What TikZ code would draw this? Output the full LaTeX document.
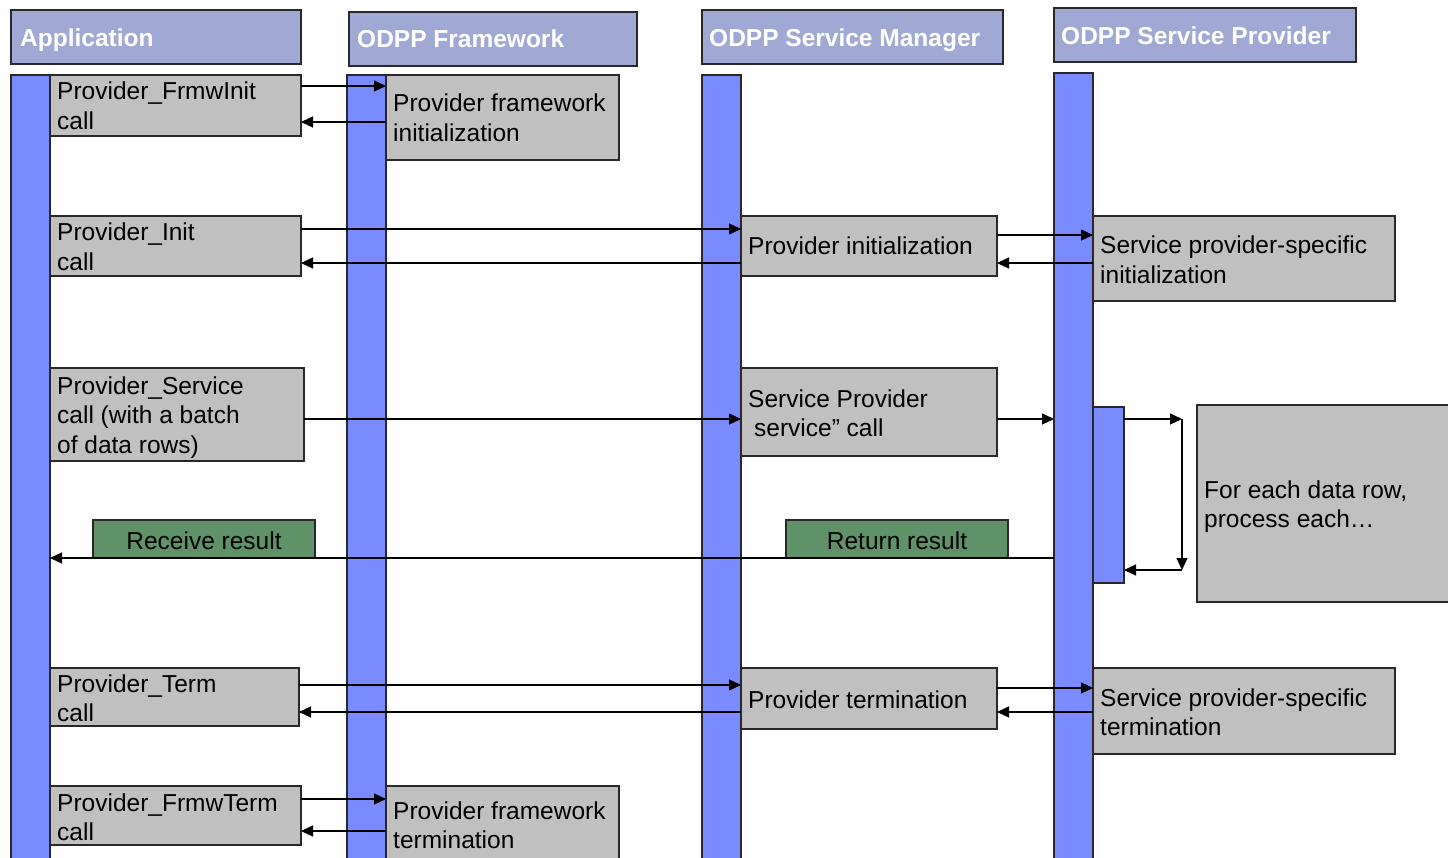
\documentclass[tikz,border=0pt]{standalone}
\usepackage{fontspec}
\setmainfont{Liberation Sans}
\usetikzlibrary{arrows.meta}
\definecolor{hdr}{RGB}{160,168,212}
\definecolor{life}{RGB}{122,138,255}
\definecolor{gbx}{RGB}{192,192,192}
\definecolor{grn}{RGB}{96,146,104}
\definecolor{edge}{RGB}{40,40,40}
\newcommand{\mkbox}[6]{\node[#1,anchor=north west,minimum width={(#5-(#3))*1pt},minimum height={(#6-(#4))*1pt}] (#2) at (#3,#4) {};}
\tikzset{
  frame/.style={draw=edge,line width=1.2pt,inner sep=0pt,outer sep=0pt},
  hbox/.style={frame,fill=hdr},
  lbox/.style={frame,fill=life},
  gbox/.style={frame,fill=gbx},
  grbox/.style={frame,fill=grn},
  txt/.style={anchor=base west,inner sep=0pt,align=left,font=\fontsize{24.5}{29.5}\selectfont},
  htxt/.style={txt,text=white,font=\fontsize{24.5}{29.5}\selectfont\bfseries},
  ctxt/.style={txt,anchor=base},
  arr/.style={line width=1.3pt,-{Triangle[length=12pt,width=11pt]}}
}
\begin{document}
\begin{tikzpicture}[x=1pt,y=-1pt]
\useasboundingbox (0,0) rectangle (1448,858);
\clip (0,0) rectangle (1448,858);
% headers
\mkbox{hbox}{h1}{11}{10}{301}{64}
\mkbox{hbox}{h2}{349}{12}{637}{66}
\mkbox{hbox}{h3}{702}{10}{1003}{64}
\mkbox{hbox}{h4}{1054}{8}{1356}{62}
\node[htxt] (t-h1) at (20,47) {Application};
\node[htxt] (t-h2) at (357,48) {ODPP Framework};
\node[htxt] (t-h3) at (709,47) {ODPP Service Manager};
\node[htxt] (t-h4) at (1061,45) {ODPP Service Provider};
% lifelines
\mkbox{lbox}{L1}{11}{75}{50}{880}
\mkbox{lbox}{L2}{347}{75}{386}{880}
\mkbox{lbox}{L3}{702}{75}{741}{880}
\mkbox{lbox}{L4}{1054}{73}{1093}{880}
\mkbox{lbox}{act}{1093}{407}{1124}{583}
% grey boxes
\mkbox{gbox}{b1}{50}{75}{301}{136}
\mkbox{gbox}{f1}{386}{75}{619}{160}
\mkbox{gbox}{b2}{50}{216}{301}{276}
\mkbox{gbox}{m2}{741}{216}{997}{276}
\mkbox{gbox}{p2}{1093}{216}{1395}{301}
\mkbox{gbox}{b3}{50}{368}{304}{461}
\mkbox{gbox}{m3}{741}{368}{997}{456}
\mkbox{gbox}{lp}{1197}{405}{1460}{602}
\mkbox{grbox}{g1}{93}{520}{315}{558}
\mkbox{grbox}{g2}{786}{520}{1008}{558}
\mkbox{gbox}{b4}{50}{668}{299}{726}
\mkbox{gbox}{m4}{741}{668}{997}{729}
\mkbox{gbox}{p4}{1093}{668}{1395}{754}
\mkbox{gbox}{b5}{50}{786}{301}{845}
\mkbox{gbox}{f5}{386}{786}{619}{880}
% texts (anchor = baseline of the last line)
\node[txt] (t-b1) at (57,129.5) {Provider\_FrmwInit\\call};
\node[txt] (t-f1) at (393,141.5) {Provider framework\\initialization};
\node[txt] (t-b2) at (57,270.5) {Provider\_Init\\call};
\node[txt] (t-m2) at (748,255) {Provider initialization};
\node[txt] (t-p2) at (1100,283.5) {Service provider-specific\\initialization};
\node[txt] (t-b3) at (57,453) {Provider\_Service\\call (with a batch\\of data rows)};
\node[txt] (t-m3) at (748,436.5) {Service Provider\\\hspace*{6pt}service'' call};
\node[txt] (t-lp) at (1204,527.5) {For each data row,\\process each\ldots};
\node[ctxt] (t-g1) at (204,549) {Receive result};
\node[ctxt] (t-g2) at (897,549) {Return result};
\node[txt] (t-b4) at (57,721.5) {Provider\_Term\\call};
\node[txt] (t-m4) at (748,708) {Provider termination};
\node[txt] (t-p4) at (1100,735.5) {Service provider-specific\\termination};
\node[txt] (t-b5) at (57,840.5) {Provider\_FrmwTerm\\call};
\node[txt] (t-f5) at (393,848.5) {Provider framework\\termination};
% messages
\draw[arr] (b1.east |- 0,86) -- (f1.west |- 0,86);
\draw[arr] (f1.west |- 0,122) -- (b1.east |- 0,122);
\draw[arr] (b2.east |- 0,229) -- (m2.west |- 0,229);
\draw[arr] (m2.west |- 0,263) -- (b2.east |- 0,263);
\draw[arr] (m2.east |- 0,235) -- (p2.west |- 0,235);
\draw[arr] (p2.west |- 0,263) -- (m2.east |- 0,263);
\draw[arr] (b3.east |- 0,419) -- (m3.west |- 0,419);
\draw[arr] (m3.east |- 0,419) -- (L4.west |- 0,419);
\coordinate (lc1) at (1182,419);
\coordinate (lc2) at (1182,570);
\draw[arr] (act.east |- lc1) -- (lc1);
\draw[arr] (lc1) -- (lc2);
\draw[arr] (lc2) -- (act.east |- lc2);
\draw[arr] (L4.west |- 0,558) -- (L1.east |- 0,558);
\draw[arr] (b4.east |- 0,685) -- (m4.west |- 0,685);
\draw[arr] (m4.west |- 0,712) -- (b4.east |- 0,712);
\draw[arr] (m4.east |- 0,688) -- (p4.west |- 0,688);
\draw[arr] (p4.west |- 0,712) -- (m4.east |- 0,712);
\draw[arr] (b5.east |- 0,799) -- (f5.west |- 0,799);
\draw[arr] (f5.west |- 0,831) -- (b5.east |- 0,831);
\end{tikzpicture}
\end{document}
